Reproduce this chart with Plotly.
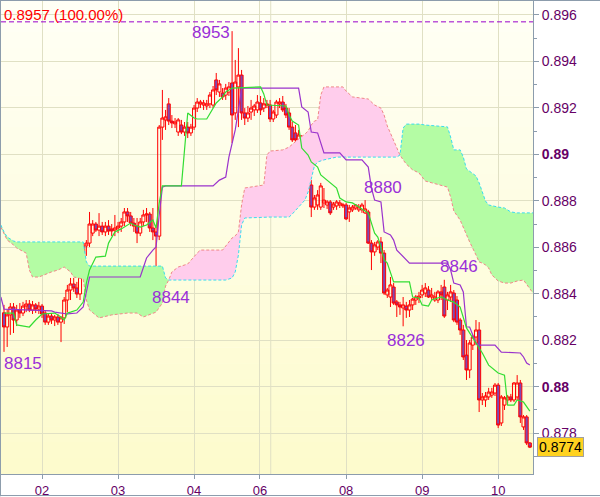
import plotly.graph_objects as go

# ---------------- data ----------------
opens = [0.88318,0.88257,0.88309,0.88343,0.88287,0.88330,0.88317,0.88347,0.88356,0.88330,
0.88352,0.88334,0.88347,0.88317,0.88278,0.88304,0.88287,0.88300,0.88278,0.88296,
0.88373,0.88416,0.88442,0.88425,0.88399,0.88511,0.88606,0.88618,0.88661,0.88700,
0.88674,0.88691,0.88666,0.88691,0.88679,0.88674,0.88683,0.88691,0.88709,0.88752,
0.88735,0.88704,0.88691,0.88661,0.88709,0.88739,0.88743,0.88683,0.88666,0.88648,
0.89117,0.89148,0.89217,0.89143,0.89131,0.89096,0.89126,0.89096,0.89117,0.89092,
0.89117,0.89199,0.89217,0.89212,0.89208,0.89217,0.89212,0.89320,0.89268,0.89264,
0.89255,0.89268,0.89307,0.89178,0.89290,0.89341,0.89178,0.89156,0.89182,0.89191,
0.89191,0.89221,0.89199,0.89217,0.89212,0.89152,0.89169,0.89217,0.89225,0.89199,
0.89178,0.89117,0.89092,0.89062,0.89062,0.88989,0.88911,0.88868,0.88773,0.88782,
0.88773,0.88791,0.88782,0.88795,0.88773,0.88778,0.88782,0.88778,0.88782,0.88752,
0.88761,0.88769,0.88761,0.88761,0.88748,0.88752,0.88618,0.88580,0.88601,0.88623,
0.88575,0.88395,0.88386,0.88429,0.88365,0.88352,0.88339,0.88347,0.88330,0.88352,
0.88373,0.88382,0.88395,0.88403,0.88416,0.88386,0.88373,0.88373,0.88408,0.88429,
0.88373,0.88386,0.88403,0.88373,0.88287,0.88244,0.88136,0.88072,0.88179,0.88214,
0.88244,0.87943,0.87943,0.87956,0.87964,0.87973,0.88007,0.87844,0.87921,0.87943,
0.87956,0.87943,0.87956,0.88016,0.87827,0.87870,0.87758]
highs = [0.88352,0.88330,0.88360,0.88360,0.88352,0.88360,0.88365,0.88373,0.88373,0.88369,
0.88360,0.88365,0.88356,0.88326,0.88317,0.88317,0.88309,0.88313,0.88304,0.88386,
0.88438,0.88468,0.88468,0.88451,0.88524,0.88618,0.88631,0.88752,0.88717,0.88709,
0.88747,0.88709,0.88709,0.88717,0.88700,0.88739,0.88709,0.88726,0.88769,0.88769,
0.88752,0.88726,0.88726,0.88726,0.88761,0.88769,0.88752,0.88769,0.88696,0.89126,
0.89277,0.89191,0.89242,0.89169,0.89156,0.89156,0.89148,0.89139,0.89139,0.89131,
0.89212,0.89242,0.89234,0.89234,0.89234,0.89268,0.89294,0.89350,0.89320,0.89285,
0.89303,0.89311,0.89530,0.89406,0.89457,0.89363,0.89199,0.89208,0.89234,0.89217,
0.89255,0.89251,0.89242,0.89234,0.89234,0.89191,0.89234,0.89242,0.89251,0.89217,
0.89199,0.89139,0.89126,0.89105,0.89083,0.89019,0.88976,0.88889,0.88825,0.88846,
0.88877,0.88855,0.88803,0.88803,0.88795,0.88803,0.88803,0.88791,0.88791,0.88782,
0.88782,0.88786,0.88786,0.88791,0.88803,0.88761,0.88631,0.88623,0.88631,0.88644,
0.88588,0.88425,0.88472,0.88446,0.88373,0.88365,0.88386,0.88365,0.88373,0.88382,
0.88395,0.88408,0.88438,0.88446,0.88433,0.88425,0.88408,0.88416,0.88438,0.88460,
0.88408,0.88438,0.88416,0.88390,0.88296,0.88266,0.88201,0.88201,0.88223,0.88287,
0.88278,0.87973,0.87977,0.87995,0.87995,0.88016,0.88016,0.87964,0.87960,0.87964,
0.87969,0.88020,0.88050,0.88029,0.87878,0.87878,0.87762]
lows = [0.88150,0.88171,0.88223,0.88231,0.88261,0.88296,0.88304,0.88321,0.88321,0.88313,
0.88317,0.88313,0.88296,0.88266,0.88266,0.88270,0.88261,0.88266,0.88192,0.88270,
0.88321,0.88373,0.88408,0.88382,0.88373,0.88481,0.88563,0.88601,0.88648,0.88666,
0.88648,0.88653,0.88648,0.88653,0.88648,0.88648,0.88661,0.88666,0.88691,0.88709,
0.88691,0.88666,0.88618,0.88648,0.88691,0.88709,0.88666,0.88631,0.88440,0.88631,
0.89062,0.89105,0.89126,0.89113,0.89113,0.89079,0.89087,0.89079,0.89070,0.89079,
0.89105,0.89182,0.89199,0.89191,0.89191,0.89199,0.89199,0.89255,0.89247,0.89234,
0.89234,0.89251,0.89049,0.89148,0.89117,0.89148,0.89126,0.89139,0.89148,0.89165,
0.89178,0.89169,0.89182,0.89199,0.89139,0.89139,0.89156,0.89199,0.89182,0.89156,
0.89105,0.89053,0.89053,0.89019,0.88976,0.88898,0.88868,0.88730,0.88761,0.88761,
0.88761,0.88769,0.88765,0.88739,0.88761,0.88761,0.88769,0.88769,0.88717,0.88709,
0.88752,0.88761,0.88752,0.88748,0.88743,0.88614,0.88502,0.88563,0.88588,0.88532,
0.88395,0.88382,0.88343,0.88352,0.88300,0.88309,0.88260,0.88296,0.88300,0.88330,
0.88352,0.88360,0.88382,0.88386,0.88382,0.88373,0.88365,0.88360,0.88373,0.88296,
0.88330,0.88365,0.88278,0.88266,0.88223,0.88115,0.88029,0.88037,0.88158,0.88179,
0.87891,0.87921,0.87913,0.87943,0.87952,0.87960,0.87822,0.87831,0.87900,0.87930,
0.87934,0.87934,0.87943,0.87844,0.87814,0.87749,0.87736]
closes = [0.88257,0.88309,0.88343,0.88287,0.88330,0.88317,0.88347,0.88356,0.88330,0.88352,
0.88334,0.88347,0.88313,0.88278,0.88304,0.88287,0.88300,0.88278,0.88296,0.88373,
0.88416,0.88442,0.88425,0.88399,0.88511,0.88606,0.88618,0.88700,0.88700,0.88674,
0.88691,0.88666,0.88691,0.88670,0.88670,0.88683,0.88691,0.88709,0.88752,0.88735,
0.88704,0.88691,0.88661,0.88709,0.88739,0.88743,0.88683,0.88666,0.88648,0.89117,
0.89156,0.89161,0.89143,0.89135,0.89139,0.89148,0.89096,0.89117,0.89092,0.89117,
0.89199,0.89225,0.89225,0.89221,0.89217,0.89255,0.89277,0.89277,0.89303,0.89247,
0.89285,0.89290,0.89169,0.89311,0.89341,0.89178,0.89156,0.89178,0.89199,0.89208,
0.89225,0.89191,0.89217,0.89212,0.89152,0.89182,0.89225,0.89225,0.89191,0.89169,
0.89117,0.89062,0.89062,0.89083,0.88984,0.88911,0.88924,0.88773,0.88812,0.88825,
0.88864,0.88803,0.88795,0.88748,0.88786,0.88795,0.88791,0.88782,0.88722,0.88769,
0.88773,0.88782,0.88773,0.88782,0.88765,0.88618,0.88580,0.88610,0.88623,0.88575,
0.88403,0.88416,0.88438,0.88360,0.88352,0.88343,0.88352,0.88330,0.88352,0.88377,
0.88386,0.88390,0.88416,0.88425,0.88386,0.88395,0.88386,0.88408,0.88395,0.88304,
0.88395,0.88408,0.88287,0.88278,0.88244,0.88128,0.88072,0.88188,0.88214,0.88244,
0.87943,0.87956,0.87960,0.87977,0.87977,0.88007,0.87835,0.87956,0.87952,0.87956,
0.87943,0.88016,0.88016,0.87870,0.87870,0.87758,0.87740]
bar_index = list(range(len(closes)))

tenkan_x = [0,3,4,8,10,12,16,18,19,20,21,23,25,26,27,29,32,33,35,37,40,41,43,45,47,48,49,50,56,58,
60,61,64,67,69,70,72,81,82,83,89,90,91,93,94,96,97,99,100,103,105,106,108,110,115,116,117,118,119,120,
121,123,128,129,131,132,134,135,137,138,140,142,144,145,146,149,151,153,156,158,159,161,162,164,165,166]
tenkan_y = [0.88317,0.88317,0.88266,0.88257,0.88287,0.88313,0.88317,0.88300,0.88287,0.88317,0.88321,0.88330,
0.88364,0.88446,0.88502,0.88558,0.88562,0.88618,0.88666,0.88679,0.88704,0.88696,0.88687,0.88696,0.88717,
0.88683,0.88791,0.88864,0.88864,0.89178,0.89156,0.89152,0.89152,0.89221,0.89247,0.89268,0.89285,0.89290,
0.89260,0.89212,0.89208,0.89169,0.89143,0.89126,0.89027,0.88997,0.88967,0.88945,0.88911,0.88877,0.88855,
0.88812,0.88795,0.88791,0.88747,0.88704,0.88661,0.88644,0.88601,0.88545,0.88532,0.88451,0.88451,0.88386,
0.88382,0.88352,0.88347,0.88373,0.88382,0.88386,0.88373,0.88364,0.88343,0.88300,0.88253,0.88188,0.88145,
0.88093,0.88059,0.88050,0.87921,0.87921,0.87943,0.87934,0.87913,0.87895]

kijun_x = [-1,0,15,16,20,23,25,26,27,43,44,45,47,48,49,50,51,66,68,70,71,73,74,75,93,94,96,97,99,101,
106,108,113,115,116,117,119,120,122,123,124,127,128,140,141,142,144,145,146,147,149,150,155,157,163,164,165,166]
kijun_y = [0.88386,0.88334,0.88326,0.88321,0.88313,0.88317,0.88343,0.88416,0.88472,0.88472,0.88515,0.88554,
0.88588,0.88601,0.88739,0.88859,0.88864,0.88864,0.88889,0.88902,0.88988,0.89105,0.89191,0.89285,0.89285,
0.89204,0.89182,0.89096,0.89092,0.89006,0.89006,0.88976,0.88976,0.88945,0.88855,0.88803,0.88795,0.88666,
0.88653,0.88631,0.88588,0.88545,0.88532,0.88532,0.88502,0.88446,0.88438,0.88408,0.88257,0.88257,0.88188,
0.88179,0.88179,0.88149,0.88145,0.88128,0.88102,0.88093]

cloud_x = [-1,0,1,3,4,7,8,9,11,15,17,19,21,22,25,26,27,30,34,39,42,44,46,48,50,51,52,53,55,58,61,62,69,70,
72,73,74,75,76,82,83,84,88,90,91,93,95,96,97,98,99,100,101,105,107,108,110,115,117,119,120,121,122,123,124,
125,126,127,129,131,133,137,140,141,142,144,145,146,147,149,150,151,152,153,154,156,158,160,162,164,166,167]
span_cyan = [0.88696,0.88666,0.88644,0.88627,0.88623,0.88623,0.88623,0.88623,0.88623,0.88623,0.88623,0.88623,
0.88623,0.88623,0.88623,0.88537,0.88519,0.88519,0.88519,0.88519,0.88519,0.88519,0.88519,0.88519,0.88519,
0.88468,0.88459,0.88459,0.88459,0.88459,0.88459,0.88459,0.88459,0.88459,0.88468,0.88494,0.88567,0.88696,
0.88726,0.88730,0.88730,0.88730,0.88730,0.88730,0.88743,0.88773,0.88803,0.88838,0.88898,0.88950,0.88967,
0.88971,0.88976,0.88988,0.88988,0.88988,0.88988,0.88988,0.88988,0.88988,0.88988,0.88988,0.88988,0.88988,
0.88988,0.88997,0.89113,0.89130,0.89130,0.89130,0.89126,0.89122,0.89118,0.89074,0.89019,0.89019,0.88988,
0.88937,0.88928,0.88907,0.88877,0.88834,0.88799,0.88782,0.88778,0.88773,0.88769,0.88752,0.88748,0.88748,
0.88748,0.88748]
span_red = [0.88687,0.88657,0.88631,0.88610,0.88597,0.88575,0.88502,0.88472,0.88472,0.88494,0.88502,0.88515,
0.88494,0.88472,0.88463,0.88373,0.88330,0.88296,0.88309,0.88317,0.88317,0.88300,0.88309,0.88321,0.88360,
0.88433,0.88459,0.88494,0.88515,0.88528,0.88575,0.88588,0.88588,0.88606,0.88640,0.88649,0.88666,0.88782,
0.88855,0.88868,0.88997,0.89014,0.89019,0.89031,0.89044,0.89066,0.89087,0.89100,0.89126,0.89143,0.89148,
0.89255,0.89290,0.89290,0.89290,0.89272,0.89247,0.89238,0.89212,0.89199,0.89169,0.89122,0.89092,0.89057,
0.89031,0.88997,0.88976,0.88958,0.88933,0.88920,0.88885,0.88872,0.88859,0.88816,0.88756,0.88717,0.88683,
0.88653,0.88623,0.88567,0.88537,0.88532,0.88524,0.88511,0.88481,0.88455,0.88446,0.88446,0.88455,0.88459,
0.88420,0.88403]
cloud_cross = [52, 125]

day_ticks = [12, 36, 60, 80.8, 108, 132, 156]
day_labels = ["02", "03", "04", "06", "08", "09", "10"]
extra_day_line = 84.2

price_ticks = [0.878, 0.880, 0.882, 0.884, 0.886, 0.888, 0.890, 0.892, 0.894, 0.896]
price_labels = ["0.878", "<b>0.88</b>", "0.882", "0.884", "0.886", "0.888", "<b>0.89</b>",
                "0.892", "0.894", "0.896"]
minor_ticks = [0.877, 0.879, 0.881, 0.883, 0.885, 0.887, 0.889, 0.891, 0.893, 0.895]

high_line = 0.8957
swing_labels = ["8953", "8844", "8880", "8846", "8826", "8815"]
swing_x = [58.7, 46.1, 113.0, 137.0, 120.3, -0.6]
swing_y = [0.89525, 0.88382, 0.88859, 0.88519, 0.88201, 0.88100]
last_price = 0.8774

# ---------------- figure ----------------
GREEN_FILL = "#b4fca4"
PINK_FILL = "#ffcdec"
CYAN = "#38dcef"
SALMON = "#f08888"
GRID = "#e0e0c4"
AXIS = "#8c9cac"
TICKC = "#660066"
LABELC = "#9a2fd8"

fig = go.Figure()

a = cloud_x.index(cloud_cross[0])
b = cloud_x.index(cloud_cross[1])
segments = [(0, a + 1, GREEN_FILL), (a, b + 1, PINK_FILL), (b, len(cloud_x), GREEN_FILL)]
for s, e, col in segments:
    fig.add_trace(go.Scatter(x=cloud_x[s:e], y=span_red[s:e], mode="lines",
                             line=dict(width=0), hoverinfo="skip", showlegend=False))
    fig.add_trace(go.Scatter(x=cloud_x[s:e], y=span_cyan[s:e], mode="lines",
                             line=dict(width=0), fill="tonexty", fillcolor=col,
                             hoverinfo="skip", showlegend=False))

fig.add_trace(go.Scatter(x=cloud_x, y=span_red, mode="lines",
                         line=dict(color=SALMON, width=1, dash="3px,2px"), showlegend=False))
fig.add_trace(go.Scatter(x=cloud_x, y=span_cyan, mode="lines",
                         line=dict(color=CYAN, width=1, dash="3px,2px"), showlegend=False))

fig.add_trace(go.Candlestick(
    x=bar_index, open=opens, high=highs, low=lows, close=closes,
    increasing=dict(line=dict(color="#ff0000", width=1), fillcolor="rgba(0,0,0,0)"),
    decreasing=dict(line=dict(color="#ff0000", width=1), fillcolor="#8048b0"),
    whiskerwidth=0, showlegend=False))

fig.add_trace(go.Scatter(x=kijun_x, y=kijun_y, mode="lines",
                         line=dict(color="#9a33cc", width=1.2), showlegend=False))
fig.add_trace(go.Scatter(x=tenkan_x, y=tenkan_y, mode="lines",
                         line=dict(color="#33dd33", width=1.2), showlegend=False))

shapes = []
n = 30
top = (255, 255, 246)
bot = (253, 251, 204)
for k in range(n):
    t = (k + 0.5) / n
    c = tuple(round(top[j] + (bot[j] - top[j]) * t) for j in range(3))
    shapes.append(dict(type="rect", xref="paper", yref="paper", x0=0, x1=1,
                       y0=1 - (k + 1) / n, y1=1 - k / n + 0.001, line=dict(width=0),
                       fillcolor="rgb(%d,%d,%d)" % c, layer="below"))
shapes.append(dict(type="line", xref="x", yref="paper", x0=extra_day_line, x1=extra_day_line,
                   y0=0, y1=1, line=dict(color=GRID, width=1), layer="below"))
shapes.append(dict(type="line", xref="paper", yref="y", x0=0, x1=1, y0=high_line, y1=high_line,
                   line=dict(color="#9900cc", width=1, dash="5px,3px"), layer="above"))
shapes.append(dict(type="line", xref="paper", yref="paper", x0=-0.0019, x1=-0.0019,
                   y0=-0.047, y1=1.0021, line=dict(color=AXIS, width=2)))
shapes.append(dict(type="line", xref="paper", yref="paper", x0=-0.002, x1=1.126,
                   y0=1.0021, y1=1.0021, line=dict(color=AXIS, width=2)))
shapes.append(dict(type="line", xref="paper", yref="paper", x0=-0.002, x1=1.126,
                   y0=-0.0455, y1=-0.0455, line=dict(color=AXIS, width=1)))

annotations = []
for txt, xx, yy in zip(swing_labels, swing_x, swing_y):
    annotations.append(dict(x=xx, y=yy, xref="x", yref="y", text=txt, showarrow=False,
                            xanchor="left", yanchor="middle",
                            font=dict(family="Liberation Sans", size=17, color=LABELC)))
annotations.append(dict(x=0.002, y=0.9725, xref="paper", yref="paper",
                        text="0.8957 (100.00%)", showarrow=False, xanchor="left",
                        yanchor="middle", font=dict(family="Liberation Sans", size=15, color="#ff0000")))
annotations.append(dict(x=1.0075, y=last_price, xref="paper", yref="y", text="0.8774",
                        showarrow=False, xanchor="left", yanchor="middle",
                        bgcolor="#ffd21f", bordercolor="#a0a0a0", borderwidth=1, borderpad=1,
                        font=dict(family="Liberation Sans", size=14, color="#000000")))

fig.update_layout(
    width=600, height=497,
    margin=dict(l=1, r=67, t=1, b=23),
    paper_bgcolor="white", plot_bgcolor="rgba(0,0,0,0)",
    showlegend=False, boxgap=0.02, boxgroupgap=0.02,
    shapes=shapes, annotations=annotations,
    xaxis=dict(range=[-0.95, 167.0], tickmode="array", tickvals=day_ticks, ticktext=day_labels,
               ticks="outside", ticklen=4, tickcolor=AXIS, showgrid=True, gridcolor=GRID,
               showline=True, linecolor=AXIS, linewidth=1, zeroline=False,
               rangeslider=dict(visible=False), automargin=False,
               tickfont=dict(family="Liberation Sans", size=13, color=TICKC)),
    yaxis=dict(range=[0.876244, 0.896597], side="right", tickmode="array",
               tickvals=price_ticks, ticktext=price_labels, ticks="outside", ticklen=5,
               tickcolor=AXIS, showgrid=True, gridcolor=GRID, showline=True, linecolor=AXIS,
               linewidth=1, zeroline=False, automargin=False,
               minor=dict(tickmode="array", tickvals=minor_ticks, ticks="outside", ticklen=3,
                          tickcolor=AXIS, showgrid=False),
               tickfont=dict(family="Liberation Sans", size=14, color=TICKC)),
)

fig.write_html("out.html", config={"displayModeBar": False},
               post_script="document.body.style.margin='0px';")
